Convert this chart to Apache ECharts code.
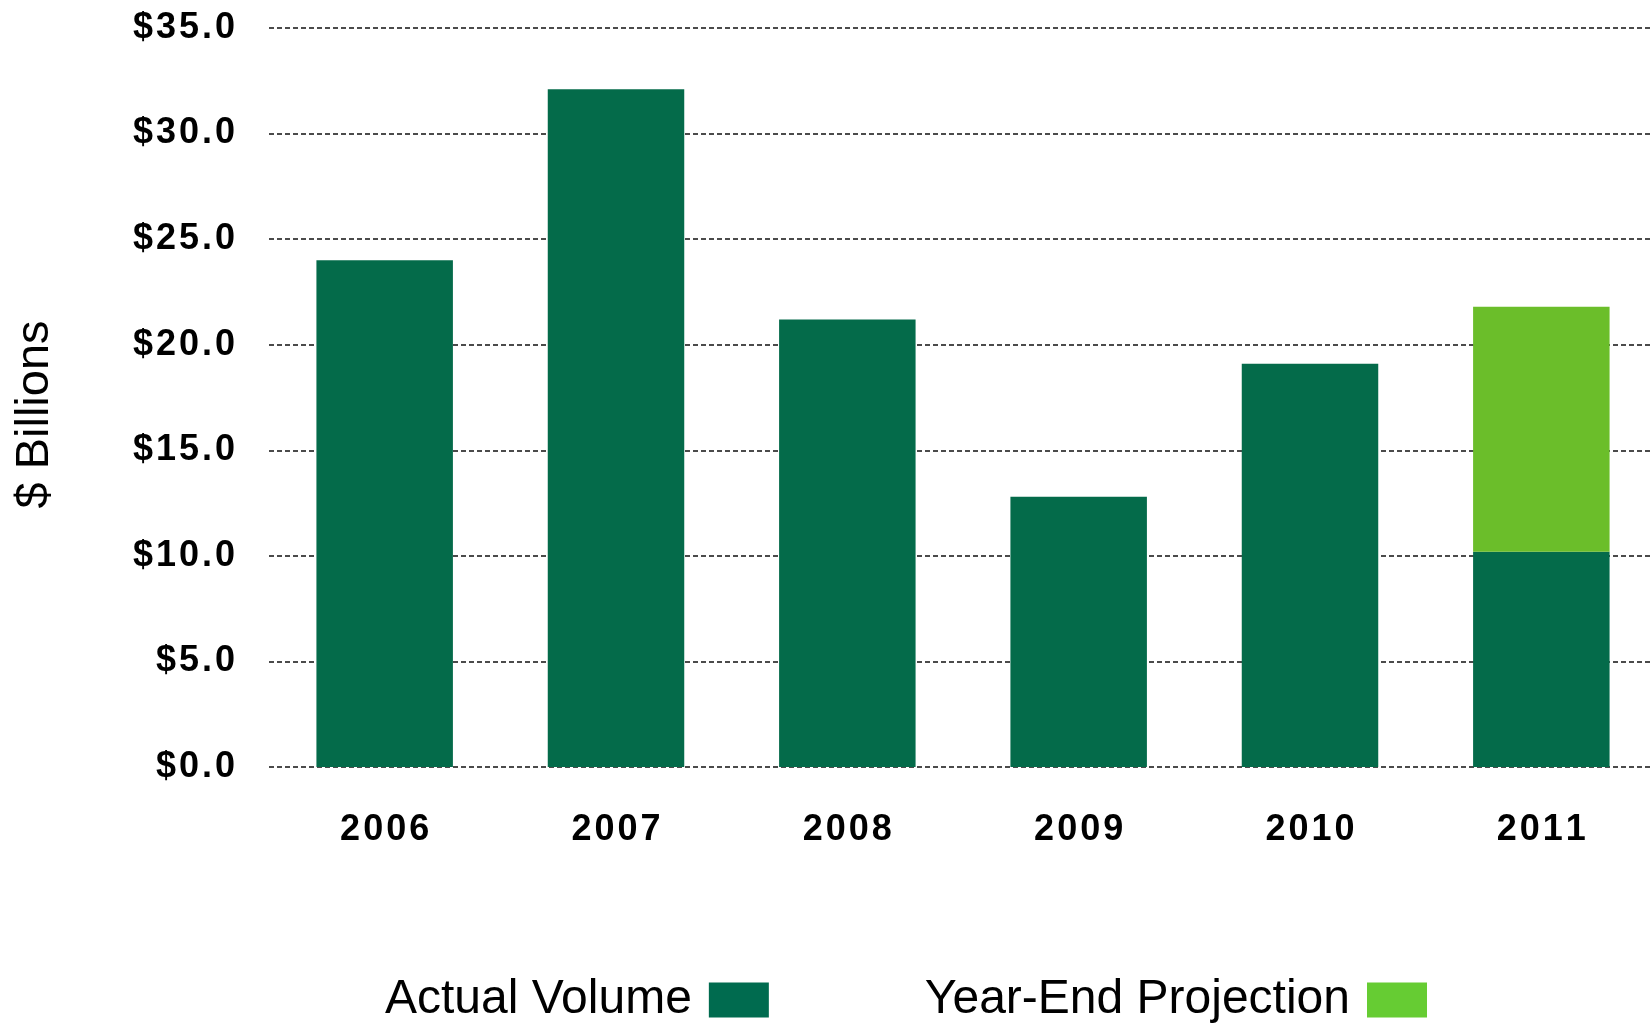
<!DOCTYPE html>
<html>
<head>
<meta charset="utf-8">
<script src="https://cdn.jsdelivr.net/npm/echarts@6/dist/echarts.min.js"></script>
<style>
  html, body { margin: 0; padding: 0; background: #ffffff; }
  #chart { width: 1652px; height: 1023px; }
</style>
</head>
<body>
<div id="chart"></div>
<script>
// Annual volume, $ billions
const years = ['2006', '2007', '2008', '2009', '2010', '2011'];
const actualVolume = [24.0, 32.1, 21.2, 12.8, 19.1, 10.2];
const yearEndProjection = [null, null, null, null, null, 11.6];
const yTicks = { min: 0, max: 35, interval: 5 };

const DARK = '#046B4A';
const LIGHT = '#6BBE2A';
const FONT = '"Liberation Sans", Arial, sans-serif';

// widen the bold tick text a little, like tracked lettering
const track = s => s.split('').join('\u200A');

const chart = echarts.init(document.getElementById('chart'));
chart.setOption({
  animation: false,
  // plot area runs slightly past the right edge of the canvas
  grid: { left: 269, width: 1388, top: 28, bottom: 256, outerBoundsMode: 'none', containLabel: false },
  legend: {
    bottom: -6,
    left: 380,
    align: 'right',
    itemWidth: 60,
    itemHeight: 35,
    itemGap: 156,
    icon: 'rect',
    textStyle: { fontFamily: FONT, fontSize: 48, color: '#000', padding: [0, 12, 0, 0] },
    data: [
      { name: 'Actual Volume', itemStyle: { color: '#006B4F' } },
      { name: 'Year-End Projection', itemStyle: { color: '#66CC33' } }
    ]
  },
  xAxis: {
    type: 'category',
    data: years,
    axisLine: { show: false },
    axisTick: { show: false },
    axisLabel: {
      margin: 45,
      fontFamily: FONT, fontWeight: 'bold', fontSize: 36, color: '#000',
      formatter: v => track(v)
    }
  },
  yAxis: {
    type: 'value',
    min: yTicks.min, max: yTicks.max, interval: yTicks.interval,
    name: '$ Billions',
    nameLocation: 'middle',
    nameRotate: 90,
    nameGap: 210,
    nameTextStyle: { fontFamily: FONT, fontSize: 47, color: '#000', padding: [0, 34, 0, 0] },
    axisLine: { show: false },
    axisTick: { show: false },
    axisLabel: {
      margin: 34,
      fontFamily: FONT, fontWeight: 'bold', fontSize: 36, color: '#000',
      formatter: v => track('$' + v.toFixed(1))
    },
    splitLine: { lineStyle: { color: '#111', width: 1.5, type: [5, 3] } }
  },
  series: [
    {
      name: 'Actual Volume', type: 'bar', stack: 'total', barWidth: '59%',
      itemStyle: { color: DARK }, data: actualVolume
    },
    {
      name: 'Year-End Projection', type: 'bar', stack: 'total', barWidth: '59%',
      itemStyle: { color: LIGHT }, data: yearEndProjection
    }
  ]
});
</script>
</body>
</html>
